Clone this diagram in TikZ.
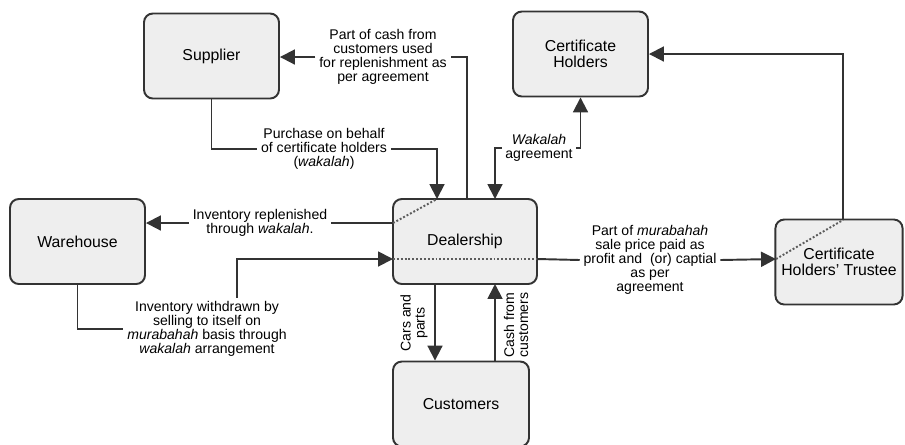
\documentclass[tikz,border=0pt]{standalone}
\usepackage{fontspec}
\setmainfont{Liberation Sans}
\usetikzlibrary{arrows.meta}
\definecolor{boxfill}{HTML}{EEEEEE}
\definecolor{linegray}{HTML}{333333}

\begin{document}
\begin{tikzpicture}[x=0.02cm, y=-0.02cm,
		box/.style={draw=linegray, fill=boxfill, rounded corners=5pt, line width=1.1pt, minimum width=2.7cm, minimum height=1.7cm, align=center, font=\fontsize{9}{9}\selectfont},
		lbl/.style={align=center, inner sep=2pt, font=\fontsize{8}{8}\selectfont},
		arr/.style={draw=linegray, line width=1.1pt, -{Triangle[length=8.5pt, width=8.5pt]}},
		ln/.style={draw=linegray, line width=1.1pt},
		dots/.style={draw=linegray!80, line width=1.1pt, dash pattern=on 1.1pt off 1.1pt}]
			\useasboundingbox (0,0) rectangle (905,444);
			\node[box] (sup) at (211.5,56) {Supplier};
			\node[box] (ch) at (580.5,54) {Certificate\\Holders};
			\node[box] (wh) at (77.5,241.5) {Warehouse};
			\node[box, minimum width=2.88cm] (deal) at (465,241.5) {Dealership};
			\node[box, minimum width=2.52cm] (tru) at (839,262) {Certificate\\Holders' Trustee};
			\node[box, minimum width=2.72cm] (cu) at (461,404) {Customers};
			
			\coordinate (d1) at (437,199);
			\coordinate (d2) at (467,199);
			\coordinate (d3) at (495,199);
			\coordinate (d4) at (393,223);
			\coordinate (d5) at (393,259);
			\coordinate (d6) at (537,259);
			\coordinate (d7) at (435,284);
			\coordinate (d8) at (495,284);
			\coordinate (t1) at (776,259);
			\coordinate (t2) at (843,220);
			\coordinate (w1) at (237,259);
			
			\node[lbl] (lpur) at (324,149) {Purchase on behalf\\of certificate holders\\(\textit{wakalah})};
			\node[lbl] (lcash) at (383,57) {Part of cash from\\customers used\\for replenishment as\\per agreement};
			\node[lbl] (lwak) at (539,148) {\textit{Wakalah}\\agreement};
			\node[lbl] (linv) at (260,223) {Inventory replenished\\through \textit{wakalah}.};
			\node[lbl] (lwd) at (207,329) {Inventory withdrawn by\\selling to itself on\\\textit{murabahah} basis through\\\textit{wakalah} arrangement};
			\node[lbl] (lmur) at (650,260) {Part of \textit{murabahah}\\sale price paid as\\profit and \ (or) captial\\as per\\agreement};
			\node[lbl, rotate=90] (lcar) at (414,323) {Cars and\\parts};
			\node[lbl, rotate=90] (lcus) at (516,325) {Cash from\\customers};
			
			\draw[ln] (sup.south) |- (lpur.west);
			\draw[arr] (lpur.east) -| (d1);
			\draw[ln] (d2) |- (lcash.east);
			\draw[arr] (lcash.west) -- (sup.east |- lcash.west);
			\draw[arr] (lwak.west) -| (d3);
			\draw[arr] (lwak.east) -| (ch.south);
			\draw[ln] (d4) -- (linv.east);
			\draw[arr] (linv.west) -- (wh.east |- linv.west);
			\draw[dots] (d4) -- (d1);
			\draw[ln] (wh.south) |- (lwd.west);
			\draw[arr] (w1 |- lwd.north) |- (d5);
			\draw[dots] (d5) -- (d6);
			\draw[ln] (d6) -- (lmur.west);
			\draw[arr] (lmur.east) -- (t1);
			\draw[dots] (t1) -- (t2);
			\draw[arr] (t2) |- (ch.east);
			\draw[arr] (d7) -- (d7 |- cu.north);
			\draw[arr] (d8 |- cu.north) -- (d8);
			
		\end{tikzpicture}
\end{document}
